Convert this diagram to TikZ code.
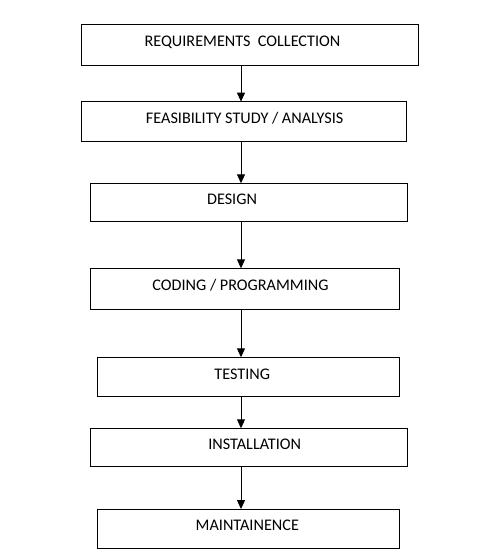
\documentclass[tikz,border=0pt]{standalone}
\usepackage{fontspec}
\setmainfont{Carlito}
\usetikzlibrary{arrows.meta}

\begin{document}
\begin{tikzpicture}[x=1pt,y=-1pt,
  stagebox/.style={draw,line width=0.9pt,inner sep=0pt,outer sep=0pt},
  stagetext/.style={font=\fontsize{16.2}{18}\selectfont,yshift=3pt},
  flow/.style={line width=0.9pt,-{Triangle[width=8pt,length=9pt]}}]
\useasboundingbox (0,0) rectangle (493,555);
\coordinate (ax) at (241,0);
\node[stagebox,minimum width=336.6pt,minimum height=41.4pt,label={[stagetext,xshift=-7.5pt]center:REQUIREMENTS\ \ COLLECTION}] (req) at (250,45) {};
\node[stagebox,minimum width=325pt,minimum height=39.3pt,label={[stagetext,xshift=0.5pt]center:FEASIBILITY STUDY / ANALYSIS}] (feas) at (244.2,121.3) {};
\node[stagebox,minimum width=316.6pt,minimum height=38.4pt,label={[stagetext,xshift=-17pt]center:DESIGN}] (design) at (249,202.5) {};
\node[stagebox,minimum width=309pt,minimum height=40.7pt,label={[stagetext,xshift=-4pt]center:CODING / PROGRAMMING}] (coding) at (244.5,288.7) {};
\node[stagebox,minimum width=301.3pt,minimum height=39.4pt,label={[stagetext,xshift=-6pt]center:TESTING}] (testing) at (248.3,377) {};
\node[stagebox,minimum width=317.3pt,minimum height=38.4pt,label={[stagetext,xshift=6pt]center:INSTALLATION}] (install) at (248.7,447.5) {};
\node[stagebox,minimum width=301.3pt,minimum height=39.3pt,label={[stagetext,xshift=-1pt]center:MAINTAINENCE}] (maint) at (248.3,528.7) {};
\draw[flow] (req.south -| ax) -- (feas.north -| ax);
\draw[flow] (feas.south -| ax) -- (design.north -| ax);
\draw[flow] (design.south -| ax) -- (coding.north -| ax);
\draw[flow] (coding.south -| ax) -- (testing.north -| ax);
\draw[flow] (testing.south -| ax) -- (install.north -| ax);
\draw[flow] (install.south -| ax) -- (maint.north -| ax);
\end{tikzpicture}
\end{document}
